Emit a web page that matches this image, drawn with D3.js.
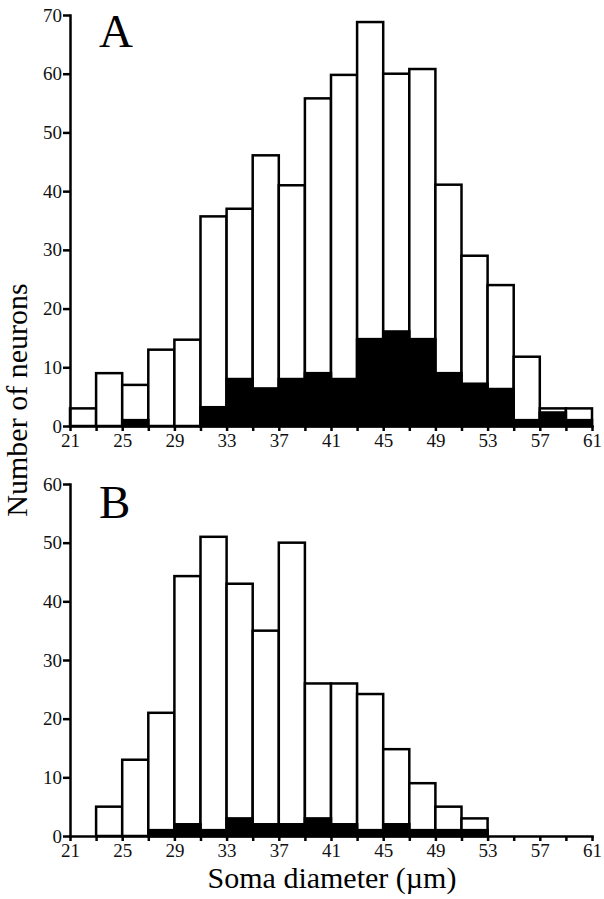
<!DOCTYPE html>
<html>
<head>
<meta charset="utf-8">
<script src="https://cdn.jsdelivr.net/npm/d3@7"></script>
<style>
  body { margin: 0; background: #fff; }
  svg { display: block; font-family: "Liberation Serif", "Times New Roman", serif; }
</style>
</head>
<body>
<div id="chart"></div>
<script>
// bin edges (soma diameter, µm)
const binEdges = [21, 23, 25, 27, 29, 31, 33, 35, 37, 39, 41, 43, 45, 47, 49, 51, 53, 55, 57, 59, 61];
const xTickLabels = [21, 25, 29, 33, 37, 41, 45, 49, 53, 57, 61];

// panel A
const totalA = [3, 9, 7, 13, 14.7, 35.7, 37, 46.1, 41, 55.8, 59.8, 68.8, 60, 60.8, 41.1, 29, 24, 11.8, 3, 3];
const blackA = [0, 0, 1, 0, 0, 3.2, 8, 6.4, 8, 9, 8, 14.8, 16.1, 14.8, 9, 7.2, 6.3, 1, 2.3, 1];
const yTicksA = [0, 10, 20, 30, 40, 50, 60, 70];

// panel B
const totalB = [0, 5, 13, 21, 44.3, 51, 43, 35, 50, 26, 26, 24.2, 14.8, 9, 5, 3, 0, 0, 0, 0];
const blackB = [0, 0, 0, 1, 2, 1, 3, 2, 2, 3, 2, 1, 2, 1, 1, 1, 0, 0, 0, 0];
const yTicksB = [0, 10, 20, 30, 40, 50, 60];

const w = 604, h = 899;
const left = 70, right = 592;
const serif = '"Liberation Serif", "Times New Roman", serif';

const svg = d3.select('#chart')
  .append('svg')
  .attr('width', w)
  .attr('height', h);

const xScale = d3.scaleLinear()
  .domain([21, 61])
  .range([left, right]);

function styleAxis(sel) {
  sel.attr('font-family', serif).attr('font-size', 19);
  sel.selectAll('path, line').attr('stroke', '#000').attr('stroke-width', 2.5);
  sel.select('.domain').attr('stroke-linecap', 'square');
  sel.selectAll('text').attr('fill', '#111')
    .style('font-family', serif).style('font-size', '19px');
}

function panel(total, black, yTicks, yMax, top, bottom, letter, letterY) {
  const yScale = d3.scaleLinear()
    .domain([0, yMax])
    .range([bottom, top]);

  const bins = total.map((t, i) => ({ x0: binEdges[i], x1: binEdges[i + 1], total: t, black: black[i] }))
    .filter(d => d.total > 0);

  const g = svg.append('g');

  // white (total) bars
  g.selectAll('rect.total')
    .data(bins)
    .enter()
    .append('rect')
    .attr('class', 'total')
    .attr('x', d => xScale(d.x0))
    .attr('y', d => yScale(d.total))
    .attr('width', d => xScale(d.x1) - xScale(d.x0))
    .attr('height', d => yScale(0) - yScale(d.total))
    .attr('fill', '#fff')
    .attr('stroke', '#000')
    .attr('stroke-width', 2.5);

  // black part
  g.selectAll('rect.black')
    .data(bins.filter(d => d.black > 0))
    .enter()
    .append('rect')
    .attr('class', 'black')
    .attr('x', d => xScale(d.x0))
    .attr('y', d => yScale(d.black))
    .attr('width', d => xScale(d.x1) - xScale(d.x0))
    .attr('height', d => yScale(0) - yScale(d.black))
    .attr('fill', '#000')
    .attr('stroke', '#000')
    .attr('stroke-width', 2.5);

  //Axes
  const xAxis = d3.axisBottom(xScale)
    .tickValues(binEdges)
    .tickFormat(d => xTickLabels.includes(d) ? d : '')
    .tickSize(5)
    .tickSizeOuter(0)
    .tickPadding(3);

  const yAxis = d3.axisLeft(yScale)
    .tickValues(yTicks)
    .tickSize(7)
    .tickSizeOuter(0)
    .tickPadding(1);

  svg.append('g')
    .attr('transform', `translate(0, ${bottom})`)
    .call(xAxis)
    .call(styleAxis);

  svg.append('g')
    .attr('transform', `translate(${left}, 0)`)
    .call(yAxis)
    .call(styleAxis);

  svg.append('text')
    .attr('x', 99)
    .attr('y', letterY)
    .style('font-size', '47px')
    .text(letter);
}

panel(totalA, blackA, yTicksA, 70, 15, 426, 'A', 47);
panel(totalB, blackB, yTicksB, 60, 484, 836, 'B', 518);

//Axis titles
svg.append('text')
  .attr('transform', 'rotate(-90)')
  .attr('x', -400)
  .attr('y', 27)
  .attr('text-anchor', 'middle')
  .style('font-size', '30px')
  .text('Number of neurons');

svg.append('text')
  .attr('x', 332)
  .attr('y', 888)
  .attr('text-anchor', 'middle')
  .style('font-size', '30px')
  .text('Soma diameter (µm)');
</script>
</body>
</html>
